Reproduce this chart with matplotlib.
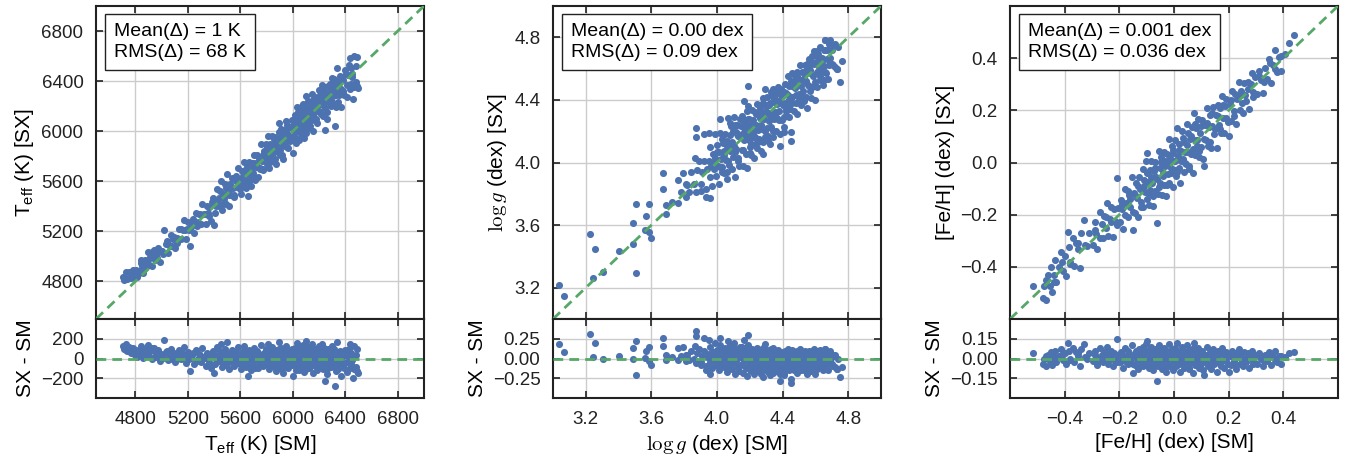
#!/usr/bin/env python3
# SX vs SM comparison: Teff, logg, [Fe/H] with residual panels below

import matplotlib
matplotlib.use("Agg")
import matplotlib.pyplot as plt
import numpy as np

plt.rcParams["font.family"] = ["Liberation Sans", "DejaVu Sans"]
plt.rcParams["mathtext.fontset"] = "custom"
plt.rcParams["mathtext.rm"] = "Liberation Sans"
plt.rcParams["mathtext.it"] = "Liberation Sans:italic"
plt.rcParams["mathtext.bf"] = "Liberation Sans:bold"

BLUE = "#4C72B0"
GREEN = "#55A868"

# ---- Teff (K): SM value and SX - SM difference ----
teff_sm = [
    4705, 4715, 4725, 4740, 4755, 4770, 4785, 4795,
    4805, 4815, 4825, 4840, 4850, 4860, 4870, 4880, 4895, 4905, 4915, 4930, 4940, 4955, 4965, 4975, 4985, 4995,
    5010, 5020, 5030, 5045, 5055, 5070, 5080, 5095, 5105, 5115, 5130, 5145, 5160, 5170, 5185, 5195,
    5205, 5215, 5225, 5235, 5250, 5260, 5275, 5285, 5300, 5310, 5320, 5335, 5345, 5355, 5365, 5380, 5390, 5398,
    5405, 5410, 5420, 5428, 5435, 5445, 5452, 5460, 5468, 5475, 5482, 5490, 5496, 5505, 5512, 5520, 5528, 5535,
    5545, 5555, 5565, 5575, 5585, 5595,
    5603, 5608, 5615, 5620, 5627, 5633, 5640, 5646, 5652, 5660, 5665, 5672, 5678, 5685, 5690, 5697, 5703, 5710,
    5716, 5722, 5730, 5736, 5742, 5750, 5757, 5763, 5770, 5778, 5785, 5795,
    5802, 5808, 5813, 5818, 5824, 5830, 5835, 5841, 5846, 5852, 5858, 5864, 5870, 5875, 5881, 5886, 5892, 5898,
    5903, 5909, 5915, 5920, 5926, 5932, 5938, 5944, 5950, 5956, 5962, 5970, 5980, 5992,
    6003, 6006, 6012, 6018, 6023, 6029, 6034, 6040, 6046, 6051, 6057, 6062, 6068, 6073, 6079, 6085, 6090, 6096,
    6101, 6107, 6113, 6118, 6124, 6130, 6136, 6141, 6147, 6153, 6159, 6165, 6172, 6180, 6188, 6196,
    6205, 6212, 6220, 6228, 6236, 6243, 6250, 6258, 6265, 6272, 6280, 6288, 6296, 6305, 6312, 6319, 6327, 6335,
    6342, 6350, 6360, 6370, 6380, 6392,
    6405, 6415, 6425, 6433, 6440, 6450, 6460, 6470, 6483, 6490, 6495,
    4730, 4760, 4790, 4820, 4845, 4875, 4900, 4925, 4950, 4980, 5000, 5040, 5065, 5090, 5120, 5150, 5180,
    5210, 5240, 5270, 5295, 5330, 5360, 5385, 5415, 5440, 5465, 5488, 5510, 5530, 5550, 5570, 5590,
    5610, 5625, 5638, 5650, 5662, 5675, 5688, 5700, 5712, 5725, 5738, 5748, 5760, 5772, 5782, 5792, 5800,
    5806, 5816, 5827, 5838, 5849, 5860, 5868, 5878, 5889, 5896, 5906, 5912, 5918, 5924, 5935, 5941, 5947,
    5953, 5959, 5966, 5975, 5985, 5996,
    6009, 6015, 6021, 6026, 6032, 6038, 6043, 6049, 6054, 6060, 6066, 6071, 6077, 6082, 6088, 6093, 6099,
    6104, 6110, 6116, 6121, 6127, 6133, 6139, 6144, 6150, 6156, 6162, 6168, 6175, 6183, 6192, 6199,
    6208, 6216, 6224, 6232, 6240, 6247, 6254, 6262, 6268, 6276, 6284, 6292, 6300, 6309, 6316, 6323, 6331,
    6339, 6346, 6355, 6365, 6375, 6385, 6398, 6410, 6420, 6437, 6445, 6455, 6465, 6478, 6488,
]
teff_diff = [
    130, 100, 150, 80, 120, 60, 110, 40,
    90, 20, 60, 130, 70, 10, 100, 50, 140, 30, 80, -10, 110, 60, 20, 90, -30, 50,
    10, 190, 70, -20, 40, 100, 0, 60, -40, 30, 90, -10, 50, 120, -50, 20,
    70, -130, 10, 40, -60, 90, 0, 50, -40, 110, 20, -80, 60, -10, 30, -100, 80, -150,
    40, -60, 120, 0, -30, 80, 150, -90, 30, -20, 100, -70, 165, 10, -110, 60, -40, 90,
    0, -80, 40, -20, 120, -60,
    20, -110, 70, -40, 130, 0, -90, 50, -20, -180, 90, -60, 10, -120, 60, -30, 110, -80,
    30, -10, 80, -100, 40, -50, 140, 0, -70, 60, -20, 100,
    -60, 30, 150, -110, 70, -30, 10, 120, -80, 40, -10, 90, -130, 0, 60, -50, 170, 20,
    -90, 110, -20, 50, -150, 80, 0, -60, 130, 30, -100, 60, -30, 100,
    -180, 40, -50, 110, 0, -90, 160, 20, -120, 70, -30, 130, -70, 10, 90, -140, 50, -10,
    180, -60, 30, 120, -100, 0, 80, -40, 150, -150, 40, -20, 100, -80, 60, 130,
    -50, 20, 150, -110, 70, -230, 0, -160, 100, -40, 40, -90, 130, -20, 60, -280, -130, 170,
    10, -60, 80, -180, 30, -100,
    50, -140, 100, 150, -60, 10, -200, 130, -90, 100, -150,
    90, 110, 70, 40, 100, 30, 70, 110, 20, 60, 40, 80, 20, 50, -10, 70, 30,
    0, 60, -30, 40, 10, -40, 50, -10, 30, -50, 60, -20, 20, -60, 70, 0,
    -50, 40, -10, 80, -70, 20, -30, 50, -100, 0, 60, -40, 30, -80, 40, -10, 70,
    -40, 20, -70, 50, -20, 80, -90, 30, -10, 100, -60, 40, -110, 10, 70, -30, 30,
    -80, 90, 0, -50, 50, -70,
    70, -20, 50, -120, 80, -40, 110, -10, 40, -80, 60, -30, 140, 0, -60, 90, -110,
    30, -20, 70, -50, 110, -90, 20, 60, -30, 90, -70, 10, 50, -120, 20, -40,
    80, -80, 40, -20, 110, -60, 50, -110, 20, -10, 90, -50, 20, -80, 100, 0, -40,
    60, -110, 30, -30, 60, -60, 90, -40, 30, -100, 60, -20, -110, 40, -130,
]

# ---- log g (dex) ----
logg_sm = [
    3.034, 3.069, 3.225, 3.255, 3.245, 3.306, 3.405, 3.49, 3.486, 3.509, 3.509, 3.57, 3.586, 3.561, 3.586, 3.598,
    3.672, 3.672, 3.688, 3.69, 3.726, 3.76, 3.76, 3.78, 3.79, 3.81, 3.815, 3.872, 3.872, 3.866, 3.90, 3.93,
    3.96, 3.92, 3.95, 4.02, 4.19, 4.165, 4.29, 4.28,
    3.81, 3.83, 3.84, 3.86, 3.87, 3.88, 3.89, 3.90, 3.91, 3.92, 3.93, 3.94,
    3.95, 3.955, 3.96, 3.965, 3.97, 3.975, 3.98, 3.985, 3.99, 3.995, 4.00, 4.005, 4.01, 4.015, 4.02, 4.025,
    4.03, 4.035, 4.04, 4.045,
    4.05, 4.054, 4.058, 4.062, 4.066, 4.07, 4.074, 4.078, 4.082, 4.086, 4.09, 4.094, 4.098, 4.102, 4.106, 4.11,
    4.114, 4.118, 4.122, 4.126, 4.13, 4.135, 4.14, 4.145,
    4.15, 4.154, 4.158, 4.162, 4.166, 4.17, 4.174, 4.178, 4.182, 4.186, 4.19, 4.194, 4.198, 4.202, 4.206, 4.21,
    4.214, 4.218, 4.222, 4.226, 4.23, 4.234, 4.238, 4.242, 4.246, 4.25,
    4.254, 4.258, 4.262, 4.266, 4.27, 4.274, 4.278, 4.282, 4.286, 4.29, 4.294, 4.298, 4.302, 4.306, 4.31, 4.314,
    4.318, 4.322, 4.326, 4.33, 4.334, 4.338, 4.342, 4.346, 4.35, 4.34,
    4.354, 4.358, 4.362, 4.366, 4.37, 4.374, 4.378, 4.382, 4.385, 4.39, 4.394, 4.398, 4.402, 4.406, 4.41, 4.414,
    4.418, 4.422, 4.426, 4.43, 4.435, 4.44, 4.445, 4.45,
    4.452, 4.456, 4.46, 4.465, 4.47, 4.475, 4.48, 4.485, 4.49, 4.495, 4.50, 4.505, 4.51, 4.515, 4.52, 4.525,
    4.53, 4.535, 4.54, 4.545, 4.55, 4.548,
    4.555, 4.56, 4.565, 4.57, 4.575, 4.58, 4.585, 4.59, 4.595, 4.60, 4.605, 4.61, 4.615, 4.62, 4.625, 4.63,
    4.635, 4.64, 4.645, 4.65,
    4.655, 4.66, 4.665, 4.67, 4.675, 4.68, 4.69, 4.70, 4.71, 4.72, 4.73, 4.74, 4.75, 4.76, 4.66, 4.73,
    3.97, 3.99, 4.00, 4.02, 4.03, 4.04, 4.06, 4.07, 4.08, 4.09, 4.10, 4.11, 4.12, 4.13, 4.14, 4.15,
    4.16, 4.17, 4.18, 4.19, 4.20, 4.21, 4.22, 4.23, 4.24, 4.25, 4.26, 4.27, 4.28, 4.29, 4.30, 4.31,
    4.32, 4.33, 4.34, 4.35, 4.36, 4.37, 4.38, 4.39, 4.40, 4.41, 4.42, 4.43, 4.44, 4.45, 4.46, 4.47,
    4.48, 4.49, 4.50, 4.51, 4.52, 4.53, 4.54, 4.55, 4.56, 4.57, 4.58, 4.59, 4.60, 4.61, 4.62, 4.63,
    4.64, 4.65, 4.66, 4.67, 4.68, 4.69, 4.70, 4.71, 4.72,
    4.06, 4.11, 4.16, 4.21, 4.26, 4.31, 4.36, 4.41, 4.46, 4.51, 4.56, 4.61, 4.66,
    4.03, 4.08, 4.13, 4.18, 4.23, 4.28, 4.33, 4.38, 4.43, 4.48, 4.53, 4.58, 4.63,
]
logg_diff = [
    0.185, 0.08, 0.316, 0.19, 0.02, -0.006, 0.03, -0.01, 0.13, -0.215, 0.227, 0.09, 0.15, 0.01, -0.03, -0.08,
    0.26, 0.16, -0.02, 0.04, 0.02, -0.02, 0.13, 0.03, 0.14, -0.03, 0.04, 0.35, 0.29, 0.16, -0.08, -0.15,
    -0.19, 0.26, 0.24, 0.26, 0.30, 0.23, 0.18, 0.13,
    0.05, -0.02, 0.10, 0.00, -0.06, 0.07, 0.12, -0.04, 0.03, 0.09, -0.10, 0.02,
    0.06, -0.05, 0.14, 0.01, -0.12, 0.08, -0.02, 0.20, 0.04, -0.08, 0.11, -0.03, 0.06, -0.15, 0.17, 0.00,
    -0.06, 0.09, -0.11, 0.03,
    0.13, -0.04, 0.05, -0.17, 0.22, 0.02, -0.09, 0.10, -0.01, 0.15, -0.13, 0.04, -0.06, 0.19, 0.00, -0.20,
    0.08, -0.03, 0.12, -0.10, 0.05, -0.16, 0.02, 0.09,
    -0.07, 0.14, -0.18, 0.03, -0.02, 0.10, -0.12, 0.06, -0.22, 0.00, 0.17, -0.05, 0.08, -0.14, 0.02, -0.09,
    0.12, -0.03, 0.05, -0.20, 0.09, -0.07, 0.00, -0.15, 0.13, -0.04,
    0.07, -0.11, 0.02, -0.19, 0.10, -0.06, 0.04, -0.23, -0.01, 0.08, -0.13, 0.03, -0.08, 0.11, -0.17, 0.00,
    -0.05, 0.06, -0.21, -0.10, 0.09, -0.02, -0.14, 0.04, -0.07, 0.13,
    -0.03, 0.08, -0.16, 0.01, -0.09, 0.11, -0.05, -0.20, -0.28, 0.04, -0.12, 0.06, -0.02, -0.18, -0.215, 0.09,
    -0.07, 0.02, -0.13, 0.12, -0.04, 0.05, -0.10, -0.31,
    -0.26, 0.03, -0.08, 0.10, -0.14, 0.00, -0.05, 0.07, -0.18, 0.04, -0.10, 0.12, -0.02, -0.15, 0.06, -0.07,
    0.01, 0.09, -0.12, -0.03, 0.05, -0.20,
    -0.06, 0.10, -0.11, 0.02, -0.16, 0.06, -0.03, 0.12, -0.08, -0.20, 0.04, -0.13, 0.08, -0.01, -0.10, 0.11,
    -0.05, 0.03, -0.15, 0.07,
    -0.04, 0.12, -0.09, 0.05, -0.14, 0.08, -0.02, -0.07, 0.04, -0.11, -0.13, 0.00, -0.235, -0.11, 0.12, -0.13,
    0.03, -0.01, 0.07, -0.05, 0.12, 0.01, 0.08, -0.06, 0.04, 0.00, 0.10, -0.04, 0.06, -0.12, 0.14, 0.02,
    -0.08, 0.05, -0.02, 0.09, -0.10, 0.03, -0.06, 0.00, 0.07, -0.12, 0.04, -0.03, 0.10, -0.09, 0.01, -0.14,
    0.05, -0.04, -0.18, 0.06, -0.07, 0.02, -0.11, 0.08, -0.03, 0.04, -0.09, 0.00, -0.15, 0.07, -0.04, 0.03,
    -0.10, 0.09, -0.06, 0.02, -0.12, 0.05, -0.02, 0.08, -0.07, 0.00, -0.10, 0.04, 0.09, -0.03, 0.05, -0.08,
    0.01, -0.12, 0.06, -0.01, -0.06, 0.09, 0.02, -0.09, 0.04,
    -0.12, 0.13, 0.11, -0.16, 0.09, 0.06, 0.10, -0.12, 0.11, -0.08, 0.05, 0.10, -0.08,
    -0.09, 0.17, 0.04, 0.15, -0.11, -0.15, 0.12, 0.01, -0.06, 0.06, -0.14, 0.10, 0.02,
]

# ---- [Fe/H] (dex) ----
feh_sm = [
    -0.515, -0.48, -0.475, -0.468, -0.46, -0.455, -0.45, -0.445, -0.44, -0.435, -0.43, -0.42, -0.415, -0.405,
    -0.398, -0.395, -0.387, -0.385, -0.38, -0.37, -0.365, -0.36, -0.35, -0.345, -0.34, -0.33, -0.325, -0.31,
    -0.298, -0.29, -0.285, -0.28, -0.27, -0.265, -0.26, -0.255, -0.25, -0.245, -0.24, -0.235, -0.23, -0.225,
    -0.22, -0.215, -0.209, -0.205,
    -0.198, -0.195, -0.19, -0.185, -0.18, -0.175, -0.17, -0.165, -0.16, -0.155, -0.15, -0.147, -0.143, -0.14,
    -0.135, -0.13, -0.127, -0.123, -0.12, -0.115, -0.112, -0.108, -0.105, -0.103, -0.10, -0.097,
    -0.095, -0.092, -0.089, -0.086, -0.083, -0.08, -0.077, -0.074, -0.071, -0.068, -0.065, -0.062, -0.059, -0.056,
    -0.053, -0.05, -0.047, -0.044, -0.041, -0.038, -0.035, -0.032, -0.029, -0.026, -0.023, -0.02, -0.017, -0.014,
    -0.011, -0.008, -0.005, -0.002,
    0.002, 0.005, 0.008, 0.011, 0.014, 0.017, 0.02, 0.023, 0.026, 0.029, 0.032, 0.035, 0.038, 0.041,
    0.044, 0.047, 0.05, 0.053, 0.056, 0.059, 0.062, 0.065, 0.068, 0.072, 0.075, 0.078, 0.081, 0.084,
    0.088, 0.091, 0.095, 0.098,
    0.102, 0.105, 0.109, 0.112, 0.116, 0.12, 0.124, 0.128, 0.132, 0.136, 0.14, 0.144, 0.148, 0.152,
    0.156, 0.16, 0.164, 0.168, 0.172, 0.176, 0.18, 0.184, 0.188, 0.192, 0.196, 0.20,
    0.204, 0.209, 0.214, 0.218, 0.223, 0.228, 0.232, 0.237, 0.242, 0.246, 0.251, 0.256, 0.26, 0.265,
    0.27, 0.275, 0.28, 0.285, 0.29, 0.296,
    0.302, 0.31, 0.318, 0.325, 0.332, 0.34, 0.348, 0.355, 0.362, 0.37, 0.378, 0.385, 0.392, 0.405, 0.42, 0.44,
    -0.47, -0.44, -0.41, -0.38, -0.35, -0.32, -0.29, -0.27, -0.25, -0.23, -0.21, -0.19, -0.18, -0.17,
    -0.16, -0.15, -0.14, -0.13, -0.12, -0.11, -0.10, -0.09, -0.085, -0.078, -0.07, -0.063, -0.055, -0.048,
    -0.04, -0.033, -0.025, -0.018, -0.01, -0.003, 0.004, 0.012, 0.018, 0.025, 0.033, 0.04, 0.048, 0.055,
    0.063, 0.07, 0.077, 0.085, 0.093, 0.10, 0.11, 0.12, 0.13, 0.14, 0.15, 0.16, 0.17, 0.18,
    0.19, 0.21, 0.22, 0.24, 0.25, 0.27, 0.29, 0.31, 0.33, 0.35, 0.37, 0.39,
]
feh_diff = [
    0.04, -0.04, 0.00, -0.06, 0.03, -0.02, 0.05, -0.05, 0.01, 0.06, -0.03, 0.02, 0.07, -0.01,
    0.04, -0.04, 0.12, 0.06, 0.00, 0.08, -0.03, 0.05, 0.02, -0.06, 0.07, 0.11, 0.01, 0.04,
    -0.02, 0.06, 0.01, -0.05, 0.08, 0.03, -0.03, 0.05, 0.00, 0.09, -0.04, 0.02, 0.06, -0.06,
    0.04, -0.01, 0.15, 0.03,
    -0.03, 0.05, 0.01, -0.07, 0.08, 0.02, -0.04, 0.04, -0.01, 0.10, -0.108, 0.03, -0.05, 0.06,
    0.00, -0.08, 0.07, 0.02, -0.03, 0.09, -0.06, 0.04, -0.01, 0.11, -0.04, 0.135,
    0.02, -0.07, 0.06, -0.02, 0.09, 0.00, -0.09, 0.04, -0.04, 0.07, 0.01, -0.17, -0.06, 0.10,
    0.03, -0.03, 0.05, -0.08, 0.00, 0.08, -0.05, 0.02, -0.10, 0.06, -0.02, 0.11, -0.06, 0.03,
    -0.01, 0.07, -0.09, 0.04,
    -0.03, 0.08, -0.06, 0.12, 0.01, -0.04, 0.05, -0.10, 0.02, 0.09, -0.02, -0.07, 0.04, 0.00,
    -0.05, 0.10, -0.01, 0.06, -0.08, 0.03, -0.03, 0.07, -0.11, 0.118, 0.01, -0.05, 0.05, -0.02,
    0.08, -0.07, 0.02, -0.04,
    0.06, -0.09, -0.124, 0.03, -0.03, 0.09, -0.06, 0.01, 0.05, -0.08, 0.00, 0.07, -0.04, 0.03,
    -0.10, 0.06, -0.02, 0.04, -0.06, 0.08, -0.01, -0.07, 0.03, 0.05, -0.04, -0.10,
    0.02, -0.05, 0.06, -0.02, 0.04, -0.08, 0.01, 0.07, -0.04, 0.03, -0.06, 0.05, 0.00, -0.03,
    0.04, -0.07, 0.02, 0.06, -0.02, 0.03,
    -0.04, 0.04, 0.00, -0.06, 0.03, -0.02, 0.05, -0.05, 0.01, 0.06, -0.03, 0.02, -0.04, 0.01, 0.04, 0.05,
    0.02, -0.02, 0.03, -0.01, 0.04, 0.00, 0.03, -0.02, 0.04, 0.00, -0.03, 0.03, -0.02, 0.06,
    0.02, -0.04, 0.01, 0.04, -0.05, 0.02, 0.06, -0.03, 0.03, -0.05, 0.05, 0.00, -0.04, 0.07,
    -0.01, 0.04, -0.06, 0.02, -0.03, 0.05, 0.00, -0.05, 0.03, -0.02, 0.06, -0.04, 0.02, -0.07,
    0.04, -0.02, 0.07, 0.00, -0.05, 0.04, -0.02, 0.03, -0.05, 0.05, -0.02, 0.02, -0.04, 0.04,
    -0.02, 0.03, -0.04, 0.02, -0.02, 0.01, -0.04, 0.02, -0.02, 0.03, -0.01, 0.02,
]

stats_text = [
    "Mean(Δ) = 1 K\nRMS(Δ) = 68 K",
    "Mean(Δ) = 0.00 dex\nRMS(Δ) = 0.09 dex",
    "Mean(Δ) = 0.001 dex\nRMS(Δ) = 0.036 dex",
]

panels = [
    dict(sm=teff_sm, diff=teff_diff, lim=(4500, 7000), ticks=[4800, 5200, 5600, 6000, 6400, 6800],
         rlim=(-400, 400), rticks=[-200, 0, 200],
         ylab=r"T$_{\mathrm{eff}}$ (K) [SX]", xlab=r"T$_{\mathrm{eff}}$ (K) [SM]", mfont="custom"),
    dict(sm=logg_sm, diff=logg_diff, lim=(3.0, 5.0), ticks=[3.2, 3.6, 4.0, 4.4, 4.8],
         rlim=(-0.5, 0.5), rticks=[-0.25, 0.0, 0.25],
         ylab=r"$\log g$ (dex) [SX]", xlab=r"$\log g$ (dex) [SM]", mfont="cm"),
    dict(sm=feh_sm, diff=feh_diff, lim=(-0.6, 0.6), ticks=[-0.4, -0.2, 0.0, 0.2, 0.4],
         rlim=(-0.3, 0.3), rticks=[-0.15, 0.0, 0.15],
         ylab="[Fe/H] (dex) [SX]", xlab="[Fe/H] (dex) [SM]", mfont="custom"),
]

W, H = 1353, 463
fig = plt.figure(figsize=(W / 100, H / 100), dpi=100)
lefts = [96, 553, 1010]
pw = 328


def style(ax):
    ax.set_facecolor("white")
    for sp in ax.spines.values():
        sp.set_linewidth(1.5)
        sp.set_color("#222222")
    ax.tick_params(direction="in", length=5, width=1.2, pad=9, labelsize=13.5,
                   top=True, right=True, colors="#222222")
    ax.grid(True, color="#cccccc", linewidth=1.0, zorder=0)
    ax.set_axisbelow(True)


for p, left, txt in zip(panels, lefts, stats_text):
    assert len(p["sm"]) == len(p["diff"])
    sm = np.array(p["sm"], dtype=float)
    diff = np.array(p["diff"], dtype=float)
    sx = sm + diff

    ax = fig.add_axes([left / W, (H - 319) / H, pw / W, 313 / H])
    axr = fig.add_axes([left / W, (H - 398) / H, pw / W, 79 / H], sharex=ax)
    style(ax)
    style(axr)

    ax.scatter(sm, sx, s=26, color=BLUE, linewidths=0, zorder=2)
    ax.plot(p["lim"], p["lim"], color=GREEN, lw=2, ls=(0, (3.5, 2.2)), zorder=3)
    ax.set_xlim(p["lim"])
    ax.set_ylim(p["lim"])
    ax.set_xticks(p["ticks"])
    ax.set_yticks(p["ticks"])
    ax.tick_params(labelbottom=False)
    ax.set_ylabel(p["ylab"], fontsize=15, math_fontfamily=p["mfont"])
    ax.text(0.055, 0.945, txt, transform=ax.transAxes, fontsize=14, va="top", ha="left",
            linespacing=1.3, zorder=5,
            bbox=dict(boxstyle="square,pad=0.45", fc="white", ec="#222222", lw=1.0))

    axr.scatter(sm, diff, s=26, color=BLUE, linewidths=0, zorder=2)
    axr.axhline(0, color=GREEN, lw=2, ls=(0, (3.5, 2.2)), zorder=3)
    axr.set_ylim(p["rlim"])
    axr.set_yticks(p["rticks"])
    axr.set_ylabel("SX - SM", fontsize=15)
    axr.set_xlabel(p["xlab"], fontsize=15, math_fontfamily=p["mfont"])

fig.savefig("out.png", dpi=100)
